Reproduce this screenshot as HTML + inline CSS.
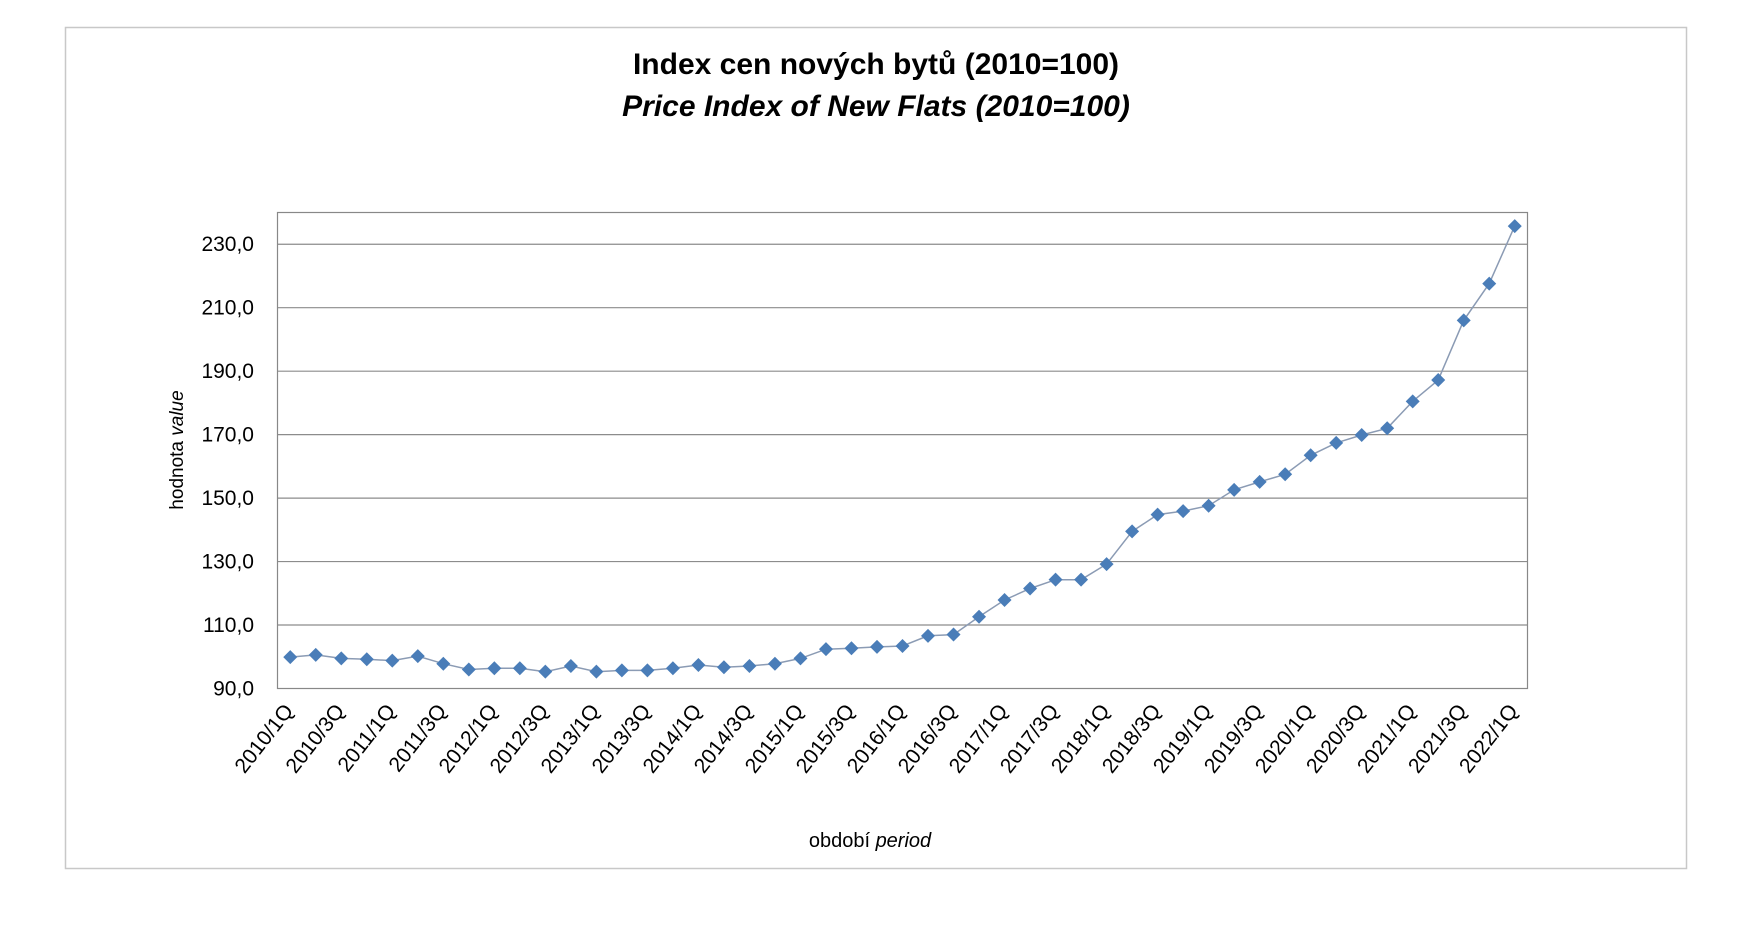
<!DOCTYPE html>
<html><head><meta charset="utf-8"><style>
html,body{margin:0;padding:0;background:#fff;}
svg{display:block;font-family:"Liberation Sans",sans-serif;}
</style></head><body>
<svg id="chart" width="1755" height="929" viewBox="0 0 1755 929">
<rect x="65.5" y="27.5" width="1621" height="841" fill="#fff" stroke="#c8c8c8" stroke-width="1.5"/>
<text x="876" y="74" text-anchor="middle" font-size="30" font-weight="bold" fill="#000">Index cen nových bytů (2010=100)</text>
<text x="876" y="116" text-anchor="middle" font-size="30" font-weight="bold" font-style="italic" fill="#000">Price Index of New Flats (2010=100)</text>
<g id="grid"></g>
<g id="yticks"></g>
<g id="xticks"></g>
<g id="series"></g>
<rect x="277.5" y="212.5" width="1250" height="476" fill="none" stroke="#888" stroke-width="1.2"/>
<text transform="translate(183,450) rotate(-90)" text-anchor="middle" font-size="19" fill="#000">hodnota <tspan font-style="italic">value</tspan></text>
<text x="870" y="847" text-anchor="middle" font-size="20" fill="#000">období <tspan font-style="italic">period</tspan></text>
</svg>
<script>
const categories = [];
for (let y = 2010; y <= 2022; y++) for (let q = 1; q <= 4; q++) { if (y === 2022 && q > 1) break; categories.push(y + '/' + q + 'Q'); }
const values = [99.9,100.6,99.5,99.2,98.8,100.2,97.8,96.0,96.4,96.4,95.3,97.1,95.3,95.7,95.7,96.4,97.4,96.7,97.1,97.8,99.5,102.4,102.7,103.1,103.4,106.6,107.0,112.6,117.9,121.5,124.3,124.3,129.2,139.5,144.8,145.9,147.6,152.6,155.1,157.5,163.5,167.4,169.9,172.0,180.5,187.2,206.0,217.6,235.7];
const yTicks = [90,110,130,150,170,190,210,230];
const yMin = 90, yMax = 240;
const L = 277.5, R = 1527.5, T = 212.5, B = 688.5;
const NS = 'http://www.w3.org/2000/svg';
function yScale(v){ return B - (v - yMin) / (yMax - yMin) * (B - T); }
function xScale(i){ const w = (R - L) / categories.length; return L + w * (i + 0.5); }
function mk(tag, attrs, parent){ const e = document.createElementNS(NS, tag); for (const k in attrs) e.setAttribute(k, attrs[k]); parent.appendChild(e); return e; }
const grid = document.getElementById('grid'), yt = document.getElementById('yticks'), xt = document.getElementById('xticks'), ser = document.getElementById('series');
yTicks.forEach(v => {
  const y = yScale(v);
  if (v > yMin) {
    const l = mk('line', {x1: L, x2: R, y1: y, y2: y, stroke: '#8c8c8c', 'stroke-width': 1.2}, grid);
    
    
  }
  const t = mk('text', {x: 254, y: y + 7, 'text-anchor': 'end', 'font-size': 21, fill: '#000'}, yt);
  t.textContent = v.toFixed(1).replace('.', ',');
  
  
});
categories.forEach((c, i) => {
  if (i % 2 !== 0) return;
  const x = xScale(i) + 4, y = 711;
  const t = mk('text', {x: x, y: y, 'text-anchor': 'end', 'font-size': 21, fill: '#000', transform: 'rotate(-52 ' + x + ' ' + y + ')'}, xt);
  t.textContent = c;
  
  
});
const pts = values.map((v, i) => xScale(i).toFixed(1) + ',' + yScale(v).toFixed(1)).join(' ');
const line = mk('polyline', {points: pts, fill: 'none', stroke: '#8b9bb4', 'stroke-width': 1.5}, ser);


values.forEach((v, i) => {
  const x = xScale(i), y = yScale(v), s = 7;
  const p = mk('polygon', {points: `${x},${y-s} ${x+s},${y} ${x},${y+s} ${x-s},${y}`, fill: '#4a7db8'}, ser);
  
  
});
</script>
</body></html>
